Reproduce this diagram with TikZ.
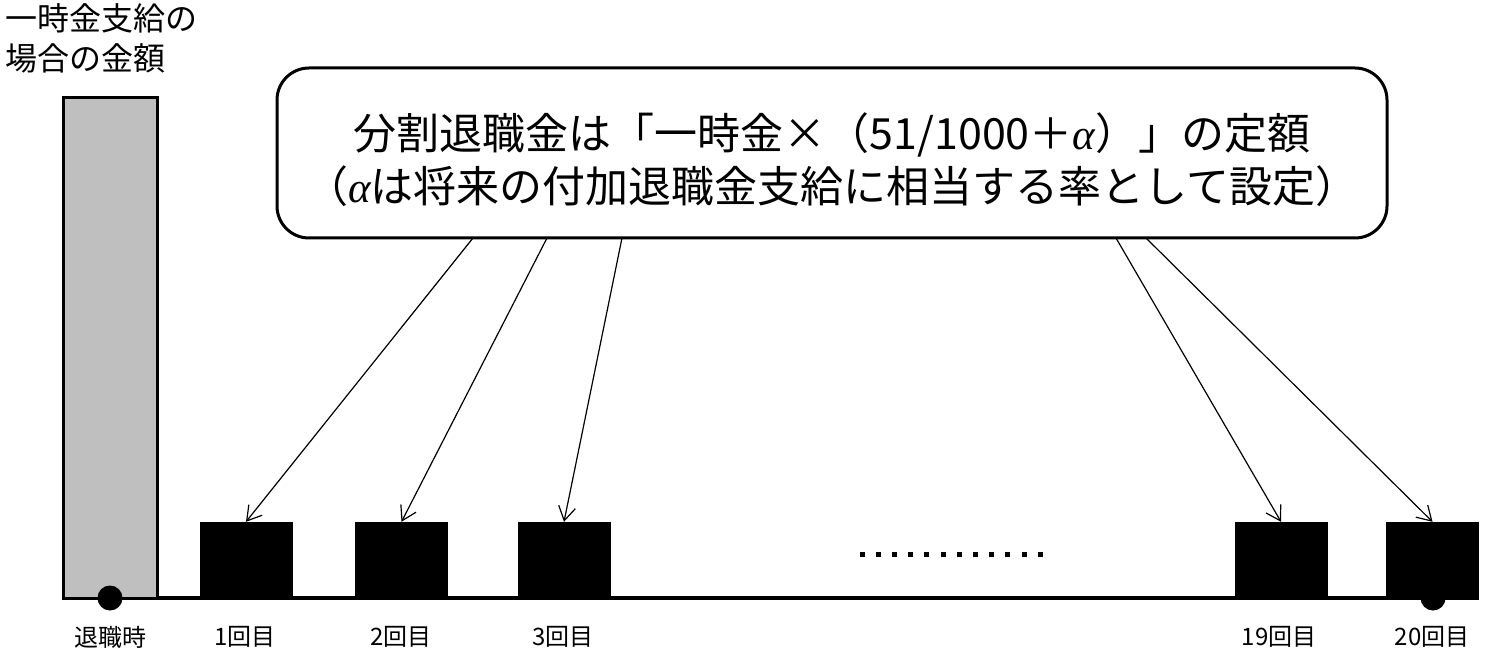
\documentclass[tikz,border=0pt]{standalone}
\usepackage{fontspec}
\setmainfont{Noto Sans CJK JP}
\newfontfamily\alphafont{Liberation Serif}
\newcommand{\myalpha}{{\alphafont\itshape α}}
\usetikzlibrary{arrows.meta}
\definecolor{lumpgray}{HTML}{BFBFBF}
\tikzset{
  callout/.style={draw, line width=3pt, rounded corners=32pt, minimum width=1110pt, minimum height=170pt, inner sep=0pt},
  callouttext/.style={align=center, inner sep=0pt, font=\fontsize{43}{53}\selectfont},
  payment/.style={fill=black, draw=none, minimum width=93pt, minimum height=76pt, inner sep=0pt},
  lumpbar/.style={draw, line width=3pt, fill=lumpgray, minimum width=94pt, minimum height=500pt, inner sep=0pt},
  lbl/.style={inner sep=0pt, font=\fontsize{24}{28}\selectfont},
  toplbl/.style={inner sep=0pt, align=left, font=\fontsize{32}{40}\selectfont},
  conn/.style={line width=1.2pt, -{Straight Barb[length=14pt,width=17pt]}},
  axis/.style={line width=4pt},
  marker/.style={circle, fill=black, minimum size=25pt, inner sep=0pt},
  ell/.style={fill=black, minimum size=5pt, inner sep=0pt}
}
\begin{document}
\begin{tikzpicture}[x=1pt,y=-1pt]
\useasboundingbox (0,0) rectangle (1486,655);
% top-left label
\node[toplbl, anchor=north west] (toplabel) at (5,3) {一時金支給の\\場合の金額};
% axis
\coordinate (axL) at (63,598);
\coordinate (axR) at (1479,598);
\draw[axis] (axL) -- (axR);
% lump sum bar
\node[lumpbar] (lump) at (110,348) {};
% markers
\node[marker] (m0) at (110,598) {};
\node[marker] (m20) at (1433,598) {};
% payments
\node[payment] (p1) at (246,560) {};
\node[payment] (p2) at (401.5,560) {};
\node[payment] (p3) at (564,560) {};
\node[payment] (p19) at (1281,560) {};
\node[payment] (p20) at (1432.5,560) {};
% ellipsis dots
\foreach \i in {0,...,11} {\node[ell] (d\i) at (862+16.2*\i,554) {};}
% callout
\node[callout] (callout) at (832,153) {};
\node[callouttext] (ctext) at (832,160) {分割退職金は「一時金×（51/1000＋\myalpha）」の定額\\（\myalpha は将来の付加退職金支給に相当する率として設定）};
% arrow start points on callout bottom
\coordinate (s1) at (473,238);
\coordinate (s2) at (547,238);
\coordinate (s3) at (622,238);
\coordinate (s19) at (1116,238);
\coordinate (s20) at (1146,238);
\draw[conn] (s1) -- (p1.north);
\draw[conn] (s2) -- (p2.north);
\draw[conn] (s3) -- (p3.north);
\draw[conn] (s19) -- (p19.north);
\draw[conn] (s20) -- (p20.north);
% labels
\node[lbl] (l0) at (110,637) {退職時};
\node[lbl] (l1) at (245,637) {1回目};
\node[lbl] (l2) at (401,637) {2回目};
\node[lbl] (l3) at (563,637) {3回目};
\node[lbl] (l19) at (1279,637) {19回目};
\node[lbl] (l20) at (1432,637) {20回目};
\end{tikzpicture}
\end{document}
